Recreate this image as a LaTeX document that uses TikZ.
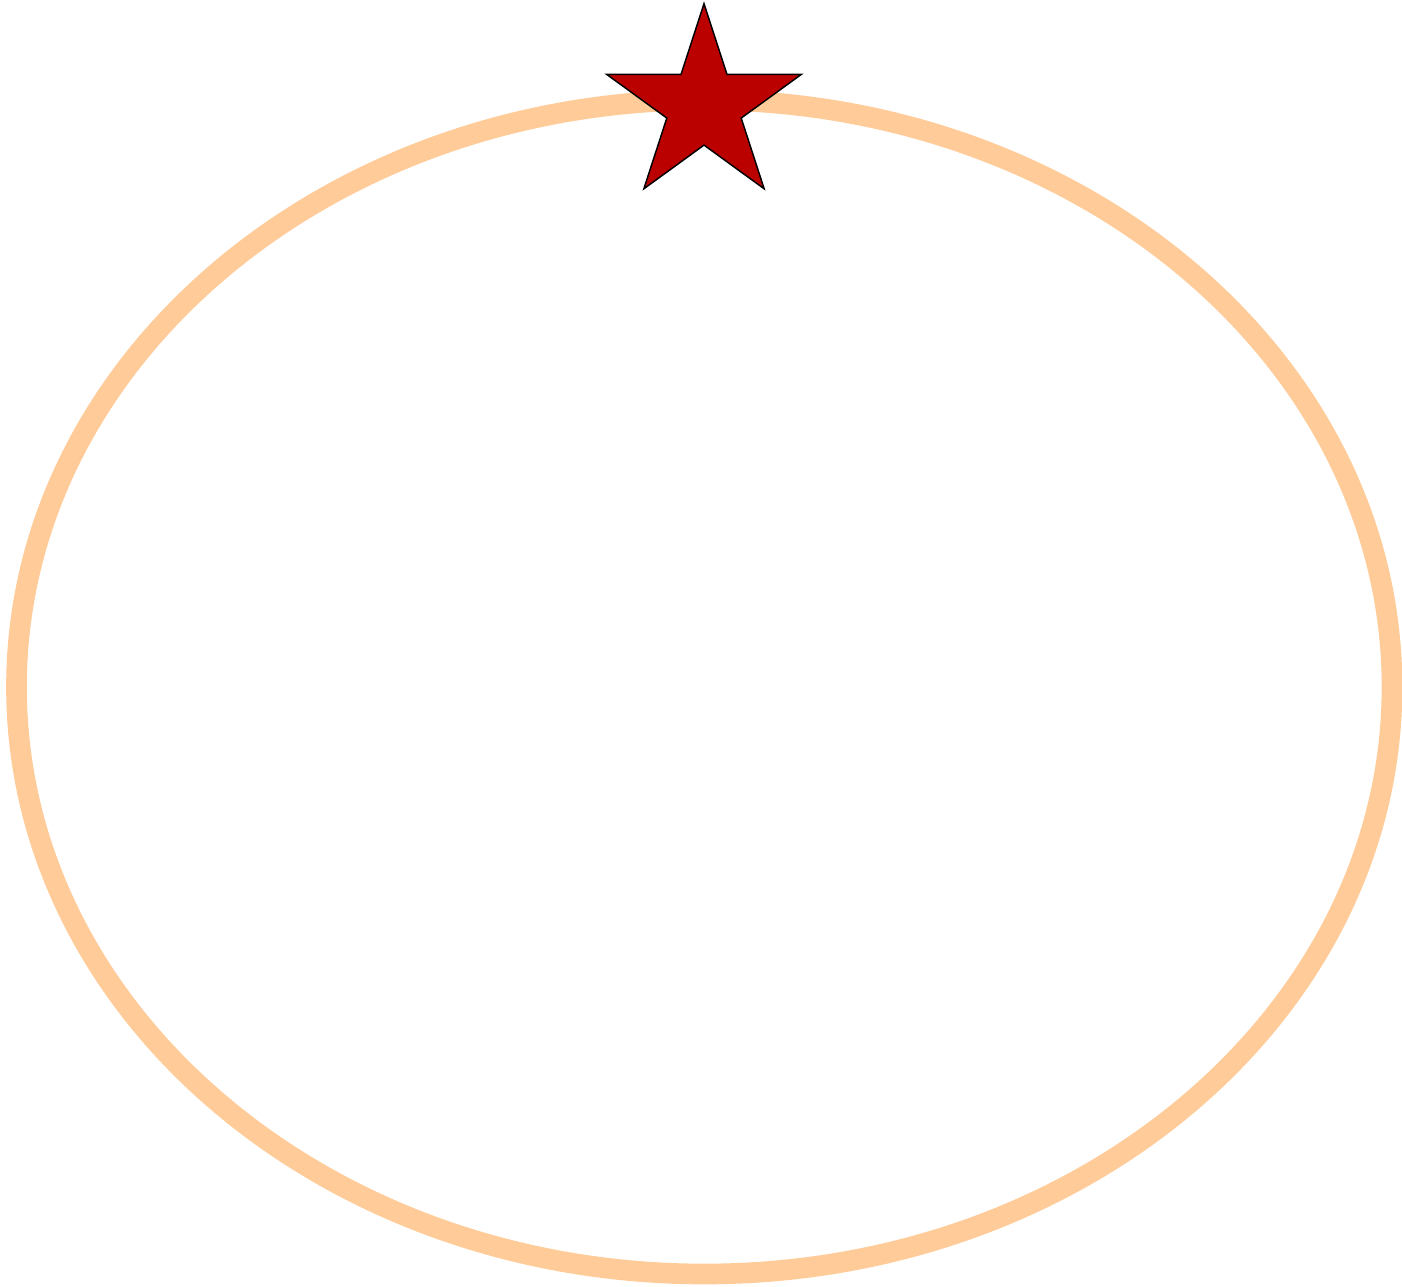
\documentclass[tikz,border=0pt]{standalone}
\usetikzlibrary{shapes.geometric}
\definecolor{peach}{HTML}{FFCB98}
\definecolor{starred}{HTML}{BB0000}
\tikzset{
  ring/.style={draw=peach, line width=15.5pt},
  redstar/.style={star, star points=5, star point ratio=2.618, draw=black, line width=1.1pt, fill=starred, minimum size=153.5pt, inner sep=0pt, outer sep=0pt}
}
\begin{document}
\begin{tikzpicture}[x=0.75pt,y=-0.75pt]
\useasboundingbox (0,0) rectangle (1402,1287);
\draw[ring] (704.25,687) ellipse [x radius=687.75, y radius=587];
\node[redstar] (star) at (704,106) {};
\end{tikzpicture}
\end{document}
